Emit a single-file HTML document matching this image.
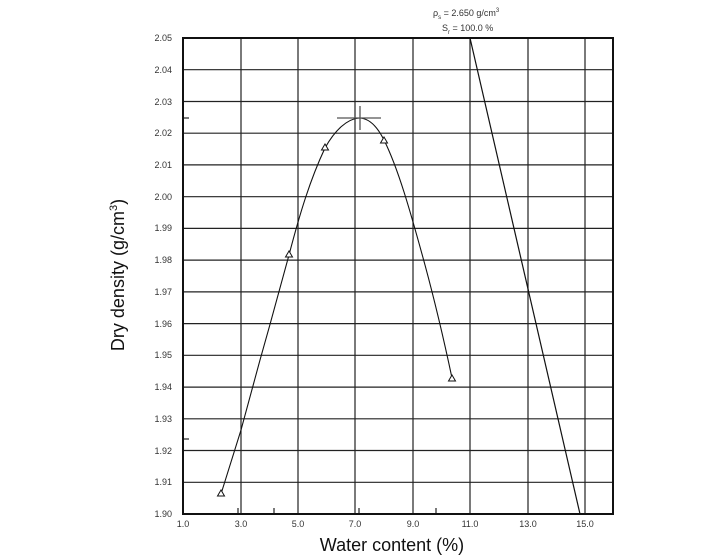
<!DOCTYPE html>
<html><head><meta charset="utf-8"><style>
html,body{margin:0;padding:0;background:#fff;}
svg{display:block;font-family:"Liberation Sans",Arial,sans-serif;}
</style></head><body>
<svg width="720" height="560" viewBox="0 0 720 560" xmlns="http://www.w3.org/2000/svg">
<rect width="720" height="560" fill="#fff"/>
<g stroke="#222" stroke-width="1.2" fill="none">
<line x1="241" y1="38" x2="241" y2="514"/>
<line x1="298" y1="38" x2="298" y2="514"/>
<line x1="355" y1="38" x2="355" y2="514"/>
<line x1="413" y1="38" x2="413" y2="514"/>
<line x1="470" y1="38" x2="470" y2="514"/>
<line x1="528" y1="38" x2="528" y2="514"/>
<line x1="585" y1="38" x2="585" y2="514"/>
<line x1="183" y1="69.7" x2="613" y2="69.7"/>
<line x1="183" y1="101.5" x2="613" y2="101.5"/>
<line x1="183" y1="133.2" x2="613" y2="133.2"/>
<line x1="183" y1="164.9" x2="613" y2="164.9"/>
<line x1="183" y1="196.7" x2="613" y2="196.7"/>
<line x1="183" y1="228.4" x2="613" y2="228.4"/>
<line x1="183" y1="260.1" x2="613" y2="260.1"/>
<line x1="183" y1="291.9" x2="613" y2="291.9"/>
<line x1="183" y1="323.6" x2="613" y2="323.6"/>
<line x1="183" y1="355.3" x2="613" y2="355.3"/>
<line x1="183" y1="387.1" x2="613" y2="387.1"/>
<line x1="183" y1="418.8" x2="613" y2="418.8"/>
<line x1="183" y1="450.5" x2="613" y2="450.5"/>
<line x1="183" y1="482.3" x2="613" y2="482.3"/>
<line x1="183" y1="118" x2="189" y2="118"/>
<line x1="183" y1="439" x2="189" y2="439"/>
<line x1="238" y1="508" x2="238" y2="514"/>
<line x1="274" y1="508" x2="274" y2="514"/>
<line x1="359" y1="508" x2="359" y2="514"/>
<line x1="436" y1="508" x2="436" y2="514"/>
</g>
<rect x="183" y="38" width="430" height="476" fill="none" stroke="#111" stroke-width="2"/>
<g fill="#333" font-size="9" text-anchor="end">
<text x="172" y="517">1.90</text><text x="172" y="485">1.91</text><text x="172" y="454">1.92</text>
<text x="172" y="422">1.93</text><text x="172" y="390">1.94</text><text x="172" y="358">1.95</text>
<text x="172" y="327">1.96</text><text x="172" y="295">1.97</text><text x="172" y="263">1.98</text>
<text x="172" y="231">1.99</text><text x="172" y="200">2.00</text><text x="172" y="168">2.01</text>
<text x="172" y="136">2.02</text><text x="172" y="105">2.03</text><text x="172" y="73">2.04</text>
<text x="172" y="41">2.05</text>
</g>
<g fill="#333" font-size="9" text-anchor="middle">
<text x="183" y="527">1.0</text><text x="241" y="527">3.0</text><text x="298" y="527">5.0</text>
<text x="355" y="527">7.0</text><text x="413" y="527">9.0</text><text x="470" y="527">11.0</text>
<text x="528" y="527">13.0</text><text x="585" y="527">15.0</text>
</g>
<text x="392" y="551" font-size="18" text-anchor="middle" fill="#111">Water content (%)</text>
<text transform="translate(124,275) rotate(-90)" font-size="18" text-anchor="middle" fill="#111">Dry density (g/cm<tspan font-size="11" dy="-7">3</tspan><tspan dy="7">)</tspan></text>
<text x="433" y="16" font-size="9" fill="#333">ρ<tspan font-size="6" dy="3">s</tspan><tspan dy="-3"> = 2.650 g/cm</tspan><tspan font-size="6" dy="-4">3</tspan></text>
<text x="442" y="31" font-size="9" fill="#333">S<tspan font-size="6" dy="3">r</tspan><tspan dy="-3"> = 100.0 %</tspan></text>
<line x1="470" y1="38" x2="580" y2="514" stroke="#111" stroke-width="1.2"/>
<path fill="none" stroke="#111" stroke-width="1.1" d="M221,494 L241,430 L260,360 C270,325 280,288 289,255 C300,213 310,180 325,148 C335,130 347,119 359,118 C370,118 378,128 384,140 C398,168 410,210 425,265 C435,302 445,345 452,378"/>
<g stroke="#555" stroke-width="1.3"><line x1="337" y1="118" x2="381" y2="118"/><line x1="360" y1="106" x2="360" y2="130"/></g>
<g fill="#fff" stroke="#111" stroke-width="1">
<polygon points="221,490 217.5,496 224.5,496"/>
<polygon points="289,251 285.5,257 292.5,257"/>
<polygon points="325,144 321.5,150 328.5,150"/>
<polygon points="384,137 380.5,143 387.5,143"/>
<polygon points="452,375 448.5,381 455.5,381"/>
</g>
</svg>
</body></html>
